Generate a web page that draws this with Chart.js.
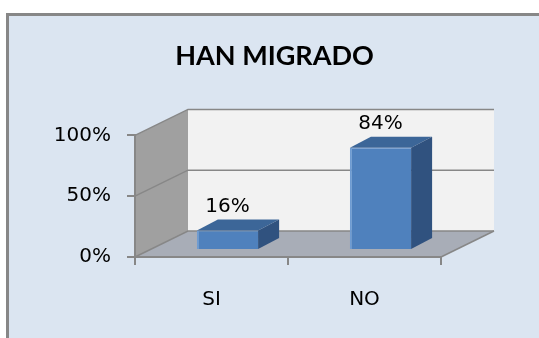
<!DOCTYPE html>
<html>
<head>
<meta charset="utf-8">
<title>HAN MIGRADO</title>
<script src="https://cdn.jsdelivr.net/npm/chart.js@4/dist/chart.umd.min.js"></script>
<style>
    html, body { margin: 0; padding: 0; background: #ffffff; overflow: hidden; }
    #frame {
        position: absolute; left: 6px; top: 13px;
        width: 600px; height: 400px;
        background: #dbe5f1;
        border: 3px solid #878787;
    }
    #MigChart { position: absolute; left: 0; top: 0; }
</style>
</head>
<body>
<div id="frame"></div>
<canvas id="MigChart" width="539" height="338"></canvas>

<script>
// ---------------- Data ----------------
const categories = ["SI", "NO"];
const migrated = [16, 84];
const yTicks = [0, 50, 100];

// ---------------- 3D look ----------------
const DEPTH_X = 53;     // floor depth, front edge to back wall
const DEPTH_Y = -26;
const BAR_SHIFT_X = 16; // bars stand a bit behind the front edge
const BAR_SHIFT_Y = -7;
const BAR_DEPTH_X = 21;
const BAR_DEPTH_Y = -11;

const LINE = "#878787";

// walls, floor and gridlines, drawn before the axes
const wallsPlugin = {
    id: "walls",
    beforeDraw(chart) {
        const ctx = chart.ctx;
        const xs = chart.scales.x;
        const ys = chart.scales.y;
        const L = xs.left, R = xs.right;
        const yTop = ys.getPixelForValue(100);
        const yBot = ys.getPixelForValue(0);

        ctx.save();

        // back wall
        ctx.fillStyle = "#f2f2f2";
        ctx.fillRect(L + DEPTH_X, yTop + DEPTH_Y, R - L, yBot - yTop);

        // left wall
        ctx.fillStyle = "#a0a0a0";
        ctx.beginPath();
        ctx.moveTo(L, yTop);
        ctx.lineTo(L + DEPTH_X, yTop + DEPTH_Y);
        ctx.lineTo(L + DEPTH_X, yBot + DEPTH_Y);
        ctx.lineTo(L, yBot);
        ctx.closePath();
        ctx.fill();

        // floor
        ctx.fillStyle = "#a8adb7";
        ctx.beginPath();
        ctx.moveTo(L, yBot);
        ctx.lineTo(R, yBot);
        ctx.lineTo(R + DEPTH_X, yBot + DEPTH_Y);
        ctx.lineTo(L + DEPTH_X, yBot + DEPTH_Y);
        ctx.closePath();
        ctx.fill();

        // gridlines across left wall and back wall
        ctx.strokeStyle = LINE;
        ctx.lineWidth = 1.5;
        yTicks.forEach(v => {
            const y = ys.getPixelForValue(v);
            ctx.beginPath();
            ctx.moveTo(L, y);
            ctx.lineTo(L + DEPTH_X, y + DEPTH_Y);
            ctx.lineTo(R + DEPTH_X, y + DEPTH_Y);
            ctx.stroke();
        });

        // right edge of the floor
        ctx.beginPath();
        ctx.moveTo(R, yBot);
        ctx.lineTo(R + DEPTH_X, yBot + DEPTH_Y);
        ctx.stroke();

        ctx.restore();
    }
};

// shift bars back, then add top and side faces plus value labels
const barsPlugin = {
    id: "bars3d",
    beforeDatasetsDraw(chart) {
        chart.ctx.save();
        chart.ctx.translate(BAR_SHIFT_X, BAR_SHIFT_Y);
    },
    afterDatasetsDraw(chart) {
        const ctx = chart.ctx;
        const meta = chart.getDatasetMeta(0);
        const values = chart.data.datasets[0].data;

        meta.data.forEach((bar, i) => {
            const p = bar.getProps(["x", "y", "base", "width"], true);
            const x0 = p.x - p.width / 2;
            const x1 = p.x + p.width / 2;

            // top face
            ctx.fillStyle = "#3c6698";
            ctx.beginPath();
            ctx.moveTo(x0, p.y);
            ctx.lineTo(x1, p.y);
            ctx.lineTo(x1 + BAR_DEPTH_X, p.y + BAR_DEPTH_Y);
            ctx.lineTo(x0 + BAR_DEPTH_X, p.y + BAR_DEPTH_Y);
            ctx.closePath();
            ctx.fill();

            // side face
            ctx.fillStyle = "#30527f";
            ctx.beginPath();
            ctx.moveTo(x1, p.y);
            ctx.lineTo(x1 + BAR_DEPTH_X, p.y + BAR_DEPTH_Y);
            ctx.lineTo(x1 + BAR_DEPTH_X, p.base + BAR_DEPTH_Y);
            ctx.lineTo(x1, p.base);
            ctx.closePath();
            ctx.fill();

            // value label
            ctx.fillStyle = "#000000";
            ctx.font = "20px 'DejaVu Sans'";
            ctx.textAlign = "center";
            ctx.textBaseline = "alphabetic";
            ctx.fillText(values[i] + "%", p.x, p.y + BAR_DEPTH_Y - 8);
        });

        ctx.restore();
    }
};

// ---------------- Chart ----------------
const ctx = document.getElementById("MigChart").getContext("2d");

new Chart(ctx, {
    type: "bar",
    data: {
        labels: categories,
        datasets: [{
            data: migrated,
            backgroundColor: "#4f81bd",
            borderColor: "#6f9cd2",
            borderWidth: { left: 2, top: 1, right: 0, bottom: 0 },
            borderSkipped: false,
            barPercentage: 0.4,
            categoryPercentage: 1,
            clip: false
        }]
    },
    options: {
        responsive: false,
        animation: false,
        layout: {
            padding: { left: 10, right: 0, top: 0, bottom: 0 }
        },
        scales: {
            x: {
                grid: {
                    offset: true,
                    drawOnChartArea: false,
                    color: LINE,
                    lineWidth: 2,
                    tickLength: 8
                },
                border: { color: LINE, width: 2 },
                ticks: {
                    color: "#000000",
                    padding: 23,
                    font: { family: "DejaVu Sans", size: 20 }
                },
                afterFit(scale) { scale.height = 81; }
            },
            y: {
                min: 0,
                max: 100,
                grid: {
                    drawOnChartArea: false,
                    color: LINE,
                    lineWidth: 2,
                    tickLength: 8
                },
                border: { color: LINE, width: 2 },
                ticks: {
                    stepSize: 50,
                    color: "#000000",
                    padding: 16,
                    font: { family: "DejaVu Sans", size: 20 },
                    callback: v => v + "%"
                },
                afterFit(scale) { scale.width = 125; }
            },
            // empty right-hand axis, reserves room for the walls' depth
            yRoom: {
                type: "linear",
                position: "right",
                grid: { display: false },
                border: { display: false },
                ticks: { display: false },
                afterFit(scale) { scale.width = 98; }
            }
        },
        plugins: {
            legend: { display: false },
            tooltip: { enabled: false },
            title: {
                display: true,
                text: "HAN MIGRADO",
                color: "#000000",
                font: { family: "Lato", size: 27, weight: "bold", lineHeight: 1.2 },
                padding: { top: 40, bottom: 63 }
            }
        }
    },
    plugins: [wallsPlugin, barsPlugin]
});
</script>
</body>
</html>
